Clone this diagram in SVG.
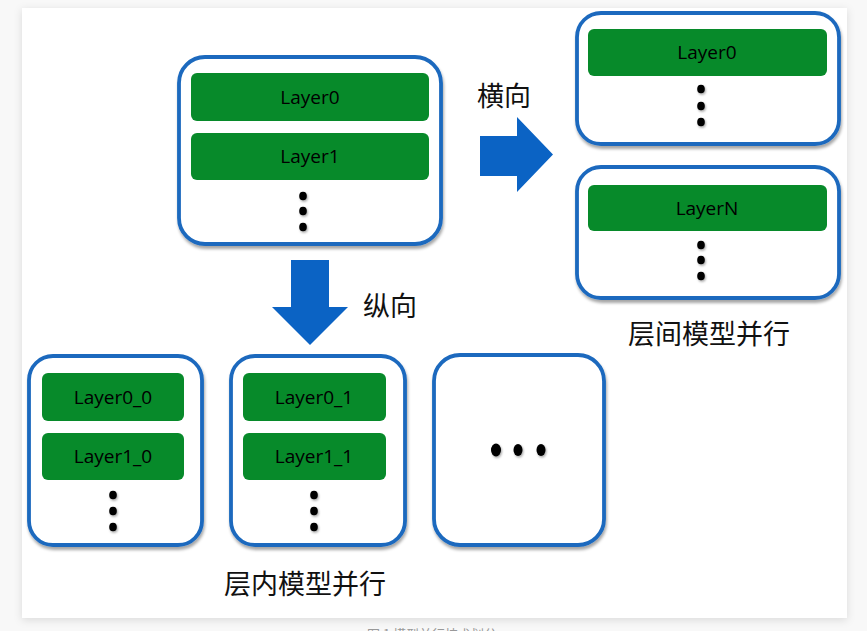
<svg xmlns="http://www.w3.org/2000/svg" width="867" height="631" viewBox="0 0 867 631">
<defs>
<filter id="pshadow" x="-5%" y="-5%" width="110%" height="110%">
<feDropShadow dx="0" dy="2" stdDeviation="4" flood-color="#000" flood-opacity="0.12"/>
</filter>
<filter id="bshadow" x="-10%" y="-10%" width="120%" height="125%">
<feDropShadow dx="1" dy="3" stdDeviation="1.5" flood-color="#000" flood-opacity="0.35"/>
</filter>
<filter id="dshadow" x="-50%" y="-50%" width="200%" height="200%">
<feDropShadow dx="1" dy="1.5" stdDeviation="1" flood-color="#000" flood-opacity="0.35"/>
</filter>
<style>
.box{fill:#fff;stroke:#1b69be;stroke-width:3.8;filter:url(#bshadow)}
.bar{fill:#078a2a}
.lt{font-family:"Open Sans","Noto Sans",sans-serif;font-size:19px;fill:#000;text-anchor:middle}
.cjk{font-family:"Noto Sans CJK SC",sans-serif;font-size:27px;fill:#111;text-anchor:middle}
.dot{fill:#000;filter:url(#dshadow)}
.arrow{fill:#0b63c4}
</style>
</defs>
<rect x="0" y="0" width="867" height="631" fill="#f8f8f8"/>
<rect x="22" y="8" width="825" height="610" fill="#fff" filter="url(#pshadow)"/>
<text x="432" y="639" font-family="Noto Sans CJK SC,sans-serif" font-size="13" fill="#999" text-anchor="middle">图 1 模型并行技术划分</text>

<g id="connectors">
<polygon class="arrow" points="480,136 517,136 517,117 553,154.5 517,192 517,176 480,176"/>
<polygon class="arrow" points="291,260 329,260 329,307 348,307 310,345 272,307 291,307"/>
</g>

<g id="label-horizontal"><text class="cjk" x="504" y="106">横向</text></g>
<g id="label-vertical"><text class="cjk" x="390" y="316">纵向</text></g>

<g id="model">
<rect class="box" x="179" y="57" width="262" height="187" rx="26"/>
<rect class="bar" x="191" y="73" width="238" height="48" rx="6"/>
<text class="lt" x="310" y="104">Layer0</text>
<rect class="bar" x="191" y="133" width="238" height="47" rx="6"/>
<text class="lt" x="310" y="163">Layer1</text>
<ellipse class="dot" cx="303" cy="196" rx="3.8" ry="4.3"/>
<ellipse class="dot" cx="303" cy="211" rx="3.8" ry="4.3"/>
<ellipse class="dot" cx="303" cy="227" rx="3.8" ry="4.3"/>
</g>

<g id="inter-0">
<rect class="box" x="577" y="13" width="262" height="131" rx="24"/>
<rect class="bar" x="588" y="29" width="239" height="47" rx="6"/>
<text class="lt" x="707" y="59">Layer0</text>
<ellipse class="dot" cx="701" cy="89" rx="3.8" ry="4.3"/>
<ellipse class="dot" cx="701" cy="106" rx="3.8" ry="4.3"/>
<ellipse class="dot" cx="701" cy="122" rx="3.8" ry="4.3"/>
</g>

<g id="inter-n">
<rect class="box" x="577" y="167" width="262" height="131" rx="24"/>
<rect class="bar" x="588" y="185" width="239" height="46" rx="6"/>
<text class="lt" x="707" y="215">LayerN</text>
<ellipse class="dot" cx="701" cy="245" rx="3.8" ry="4.3"/>
<ellipse class="dot" cx="701" cy="260" rx="3.8" ry="4.3"/>
<ellipse class="dot" cx="701" cy="276" rx="3.8" ry="4.3"/>
</g>

<g id="inter-caption"><text class="cjk" x="709" y="344">层间模型并行</text></g>

<g id="intra-0">
<rect class="box" x="29" y="356" width="173" height="189" rx="24"/>
<rect class="bar" x="42" y="373" width="142" height="48" rx="6"/>
<text class="lt" x="113" y="404">Layer0_0</text>
<rect class="bar" x="42" y="433" width="142" height="47" rx="6"/>
<text class="lt" x="113" y="463">Layer1_0</text>
<ellipse class="dot" cx="113" cy="495" rx="3.8" ry="4.3"/>
<ellipse class="dot" cx="113" cy="511" rx="3.8" ry="4.3"/>
<ellipse class="dot" cx="113" cy="527" rx="3.8" ry="4.3"/>
</g>

<g id="intra-1">
<rect class="box" x="231" y="356" width="174" height="189" rx="24"/>
<rect class="bar" x="243" y="373" width="143" height="48" rx="6"/>
<text class="lt" x="314" y="404">Layer0_1</text>
<rect class="bar" x="243" y="433" width="143" height="47" rx="6"/>
<text class="lt" x="314" y="463">Layer1_1</text>
<ellipse class="dot" cx="314" cy="495" rx="3.8" ry="4.3"/>
<ellipse class="dot" cx="314" cy="511" rx="3.8" ry="4.3"/>
<ellipse class="dot" cx="314" cy="527" rx="3.8" ry="4.3"/>
</g>

<g id="intra-more">
<rect class="box" x="434" y="355" width="170" height="190" rx="26"/>
<ellipse class="dot" cx="496" cy="450" rx="5" ry="6.5"/>
<ellipse class="dot" cx="518" cy="450" rx="4.5" ry="6"/>
<ellipse class="dot" cx="541" cy="450" rx="4.5" ry="6"/>
</g>

<g id="intra-caption"><text class="cjk" x="305" y="594">层内模型并行</text></g>
</svg>
